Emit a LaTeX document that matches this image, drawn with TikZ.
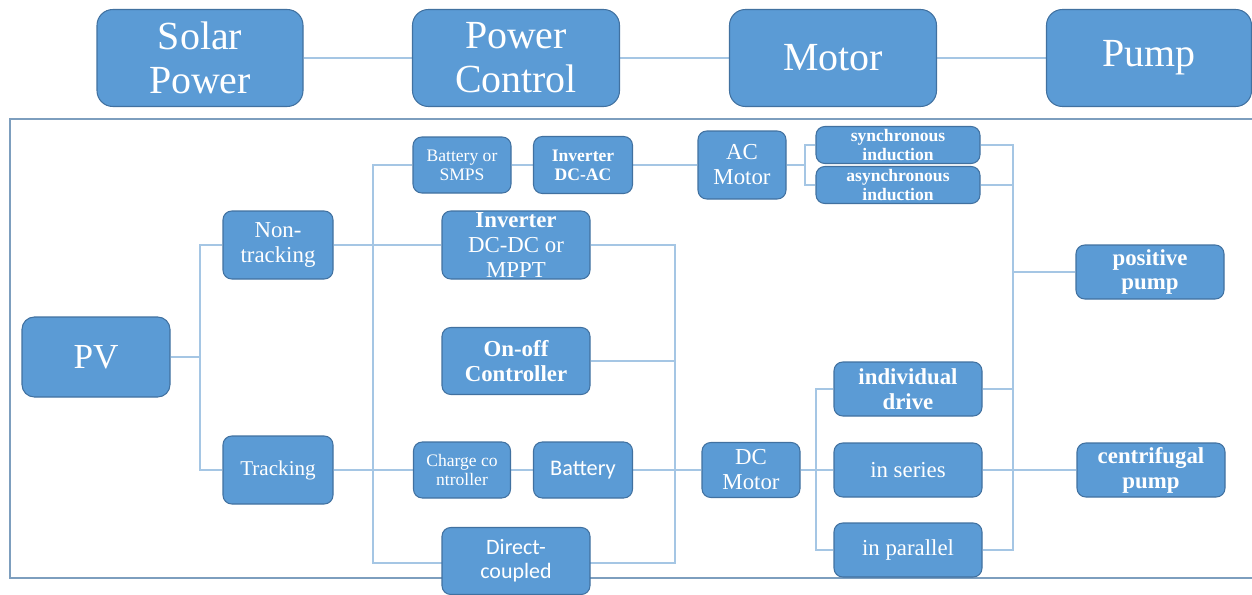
\documentclass[tikz,border=0pt]{standalone}
\usepackage{fontspec}
\setmainfont{Liberation Serif}
\newfontfamily\calfont{Carlito}
\usetikzlibrary{backgrounds}
\definecolor{boxblue}{RGB}{91,155,213}
\definecolor{boxedge}{RGB}{65,113,160}
\definecolor{linkblue}{RGB}{165,198,228}
\definecolor{outlinegray}{RGB}{125,158,190}

\begin{document}
\begin{tikzpicture}[x=0.02cm,y=-0.02cm,
    box/.style={draw=boxedge,fill=boxblue,text=white,align=center,inner sep=0pt,rounded corners=5pt,line width=0.6pt},
    sz/.style 2 args={minimum width=#1*0.02cm,minimum height=#2*0.02cm},
    big/.style={box,rounded corners=9pt,font=\fontsize{22.7}{25}\selectfont},
    mid/.style={box,font=\fontsize{13}{14.2}\selectfont},
    midb/.style={box,font=\fontsize{13}{14.2}\selectfont\bfseries},
    sml/.style={box,font=\fontsize{10}{10.8}\selectfont},
    smlb/.style={box,font=\fontsize{10}{10.8}\selectfont\bfseries},
    link/.style={draw=linkblue,line width=0.8pt},
    outline/.style={draw=outlinegray,line width=1pt}]
    \useasboundingbox (0,0) rectangle (1252,595);
    \node[big,sz={206}{97}] (solar) at (200,58) {Solar\\Power};
    \node[big,sz={207}{97}] (pctl) at (516,58) {Power\\Control};
    \node[big,sz={207}{97}] (motor) at (833,58) {Motor};
    \node[big,sz={205}{97}] (pump) at (1149,58) {Pump};
    \node[big,sz={148}{80},rounded corners=7pt,font=\fontsize{20}{22}\selectfont] (pv) at (96,357) {PV};
    \node[mid,sz={110}{68}] (ntrk) at (278,245) {Non-\\tracking};
    \node[mid,sz={110}{68},font=\fontsize{12}{13}\selectfont] (trk) at (278,470) {Tracking};
    \node[sml,sz={98}{56}] (bsm) at (462,165) {Battery or\\SMPS};
    \node[smlb,sz={99}{57}] (dcac) at (583,165) {Inverter\\DC-AC};
    \node[mid,sz={148}{68}] (inv) at (516,245) {\textbf{Inverter}\\DC-DC or\\MPPT};
    \node[midb,sz={148}{67}] (onoff) at (516,361) {On-off\\Controller};
    \node[sml,sz={97}{56}] (chg) at (462,470) {Charge co\\ntroller};
    \node[box,sz={99}{56},font=\calfont\fontsize{12.7}{14}\selectfont] (bat) at (583,470) {Battery};
    \node[box,sz={148}{67},font=\calfont\fontsize{12.5}{13.8}\selectfont] (dcpl) at (516,561) {Direct-\\coupled};
    \node[mid,sz={88}{68}] (acm) at (742,165) {AC\\Motor};
    \node[mid,sz={98}{55}] (dcm) at (751,470) {DC\\Motor};
    \node[smlb,sz={164}{37}] (syn) at (898,145) {synchronous\\induction};
    \node[smlb,sz={164}{37}] (asyn) at (898,185) {asynchronous\\induction};
    \node[midb,sz={148}{54}] (ppump) at (1150,272) {positive\\pump};
    \node[midb,sz={148}{54}] (indiv) at (908,389) {individual\\drive};
    \node[mid,sz={148}{54}] (ser) at (908,470) {in series};
    \node[mid,sz={148}{54}] (par) at (908,550) {in parallel};
    \node[midb,sz={148}{54}] (cpump) at (1151,470) {centrifugal\\pump};
    \coordinate (jpv) at (200,357);
    \coordinate (bl) at (373,563);
    \coordinate (br) at (675,563);
    \coordinate (jac) at (805,165);
    \coordinate (jdc) at (816,470);
    \coordinate (rb) at (1013,550);
    \begin{scope}[on background layer]
      \draw[outline] (1252,119) -- (10,119) -- (10,578) -- (1252,578);
      \draw[link] (solar) -- (pctl) -- (motor) -- (pump);
      \draw[link] (pv) -- (jpv);
      \draw[link] (ntrk.west) -| (jpv) |- (trk.west);
      \draw[link] (ntrk) -- (inv);
      \draw[link] (trk) -- (chg) -- (bat) -- (dcm);
      \draw[link] (bsm.west) -| (bl) -- (br) |- (inv.east);
      \draw[link] (onoff.east) -- (onoff.east -| br);
      \draw[link] (bsm) -- (dcac) -- (acm);
      \draw[link] (acm) -- (jac);
      \draw[link] (syn.west) -| (jac) |- (asyn.west);
      \draw[link] (syn.east) -| (rb) -- (par.east);
      \draw[link] (asyn.east) -- (asyn.east -| rb);
      \draw[link] (indiv.east) -- (indiv.east -| rb);
      \draw[link] (ppump.west) -- (ppump.west -| rb);
      \draw[link] (dcm) -- (ser);
      \draw[link] (ser) -- (cpump);
      \draw[link] (indiv.west) -| (jdc) |- (par.west);
    \end{scope}
\end{tikzpicture}
\end{document}
